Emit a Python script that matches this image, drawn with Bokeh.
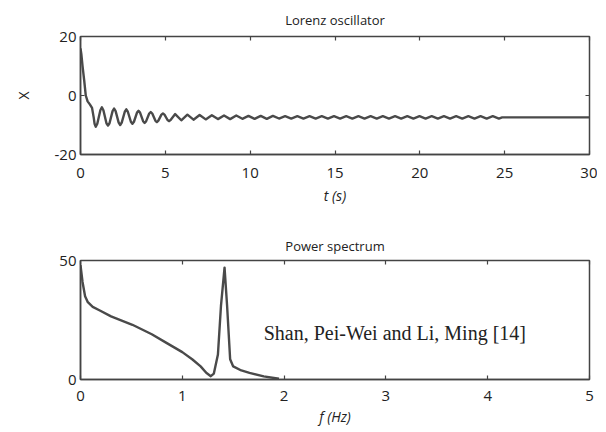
from bokeh.plotting import figure
from bokeh.models import Range1d, LinearAxis, FixedTicker, Label, Spacer
from bokeh.layouts import column, row
from bokeh.embed import file_html
from bokeh.resources import INLINE

# ---------------- data ----------------
t_s = [0, 0.05, 0.12, 0.22, 0.31, 0.42, 0.55, 0.68, 0.78, 0.83, 0.90, 0.99,
       1.17, 1.26, 1.35,
       1.53, 1.62, 1.71,
       1.89, 1.98, 2.07,
       2.25, 2.34, 2.43,
       2.61, 2.70, 2.79,
       2.97, 3.06, 3.15,
       3.33, 3.42, 3.51,
       3.69, 3.78, 3.87,
       4.05, 4.14, 4.23,
       4.41, 4.50, 4.59,
       4.77, 4.86, 4.95,
       5.13, 5.22, 5.31,
       5.58, 5.94, 6.30, 6.66, 7.02, 7.38, 7.74, 8.10, 8.46, 8.82, 9.18,
       9.54, 9.90, 10.26, 10.62, 10.98, 11.34, 11.70,
       12.06, 12.42, 12.78, 13.14, 13.50, 13.86, 14.22, 14.58, 14.94, 15.30,
       15.66, 16.02, 16.38, 16.74, 17.10, 17.46, 17.82, 18.18, 18.54, 18.90,
       19.26, 19.62, 19.98, 20.34, 20.70, 21.06, 21.42, 21.78, 22.14, 22.50,
       22.86, 23.22, 23.58, 23.94, 24.30, 24.66,
       24.85, 30]
x_vals = [16, 14, 10, 5, 0, -2, -3, -4.2, -7.5, -9.6, -10.6, -9.6,
          -5.0, -4.0, -5.0,
          -9.4, -10.2, -9.4,
          -5.3, -4.4, -5.3,
          -9.2, -10.0, -9.2,
          -5.5, -4.7, -5.5,
          -8.9, -9.6, -8.9,
          -5.8, -5.2, -5.8,
          -8.7, -9.3, -8.7,
          -6.1, -5.6, -6.1,
          -8.5, -9.0, -8.5,
          -6.5, -6.1, -6.5,
          -8.3, -8.7, -8.3,
          -6.3, -8.4, -6.5, -8.2, -6.6, -8.1, -6.7, -8.0, -6.8, -8.0, -6.8,
          -7.9, -6.9, -7.9, -6.9, -7.9, -6.9, -7.8,
          -7.0, -7.8, -7.0, -7.8, -7.0, -7.8, -7.0, -7.8, -7.0, -7.8,
          -7.0, -7.8, -7.0, -7.8, -7.0, -7.8, -7.0, -7.8, -7.0, -7.8,
          -7.0, -7.8, -7.0, -7.8, -7.0, -7.8, -7.0, -7.8, -7.0, -7.8,
          -7.0, -7.8, -7.0, -7.8, -7.0, -7.8,
          -7.4, -7.4]

freq_hz = [0, 0.02, 0.045, 0.072, 0.12, 0.19, 0.3, 0.51, 0.7, 0.84, 1.0,
           1.10, 1.18, 1.235, 1.28, 1.31, 1.35, 1.38, 1.415, 1.44, 1.47,
           1.50, 1.58, 1.66, 1.80, 1.95]
power = [48, 41, 35, 32.5, 30.5, 29, 26.5, 23, 19, 15.5, 11.5,
         8.4, 5.5, 2.8, 1.4, 2.5, 10.5, 31, 47, 31, 8.5,
         5.5, 3.8, 2.8, 1.3, 0.3]

t_ticks = [0, 5, 10, 15, 20, 25, 30]
x_ticks = [-20, 0, 20]
x_tick_labels = {-20: "-20", 0: "0", 20: "20"}
f_ticks = [0, 1, 2, 3, 4, 5]
p_ticks = [0, 50]

title_top = "Lorenz oscillator"
title_bottom = "Power spectrum"
credit = "Shan, Pei-Wei and Li, Ming [14]"

FRAME = "#444444"
INK = "#222222"
CURVE = "#4a4a4a"
SANS = "Open Sans"


def style_axis(ax, ticks, show_labels=True):
    ax.ticker = FixedTicker(ticks=ticks)
    ax.major_tick_in = 4
    ax.major_tick_out = 0
    ax.major_tick_line_color = FRAME
    ax.major_tick_line_width = 1.2
    ax.minor_tick_line_color = None
    ax.axis_line_color = FRAME
    ax.axis_line_width = 1.5
    if show_labels:
        ax.major_label_text_font = SANS
        ax.major_label_text_font_size = "15px"
        ax.major_label_text_color = INK
        ax.axis_label_text_font = SANS
        ax.axis_label_text_font_size = "14px"
        ax.axis_label_text_color = INK
    else:
        ax.major_label_text_font_size = "0px"
        ax.major_label_text_color = None
        ax.major_label_standoff = 0
        ax.axis_line_color = None


def make_fig(height, top_border, bottom_border, xr, yr, xt, yt, title):
    p = figure(width=590, height=height, output_backend="svg",
               toolbar_location=None, x_range=Range1d(*xr), y_range=Range1d(*yr),
               min_border_left=73, min_border_right=8,
               min_border_top=top_border, min_border_bottom=bottom_border)
    p.grid.visible = False
    p.outline_line_color = FRAME
    p.outline_line_width = 1.5
    p.background_fill_color = "white"
    p.border_fill_color = "white"
    p.title.text = title
    p.title.align = "center"
    p.title.text_font = SANS
    p.title.text_font_size = "13px"
    p.title.text_font_style = "normal"
    p.title.text_color = INK
    xb = p.below[0]
    yl = p.left[0]
    style_axis(xb, xt)
    style_axis(yl, yt)
    xb.major_label_standoff = 13
    yl.major_label_standoff = 4
    top = LinearAxis()
    style_axis(top, xt, show_labels=False)
    p.add_layout(top, "above")
    right = LinearAxis()
    style_axis(right, yt, show_labels=False)
    p.add_layout(right, "right")
    return p, xb, yl


p1, xb1, yl1 = make_fig(221, 35, 67, (0, 30), (-20, 20), t_ticks, x_ticks, title_top)
p1.title.standoff = 16
xb1.axis_label = "t (s)"
xb1.axis_label_standoff = 5
yl1.axis_label = "X"
yl1.axis_label_text_font_style = "normal"
yl1.axis_label_standoff = 19
yl1.major_label_overrides = x_tick_labels
p1.line(t_s, x_vals, line_color=CURVE, line_width=2.4, line_join="round")

p2, xb2, yl2 = make_fig(207, 39, 47, (0, 5), (0, 50), f_ticks, p_ticks, title_bottom)
p2.title.standoff = 12
xb2.major_label_standoff = 11
xb2.axis_label = "f (Hz)"
xb2.axis_label_standoff = 3
p2.line(freq_hz, power, line_color=CURVE, line_width=2.4, line_join="round")
p2.add_layout(Label(x=1.80, y=19.5, text=credit, text_font="Liberation Serif",
                    text_font_size="20px", text_baseline="middle",
                    text_color=INK))

layout = column(row(Spacer(width=7, height=10), p1),
                row(Spacer(width=7, height=10), p2))
open("out.html", "w").write(file_html(layout, INLINE))
